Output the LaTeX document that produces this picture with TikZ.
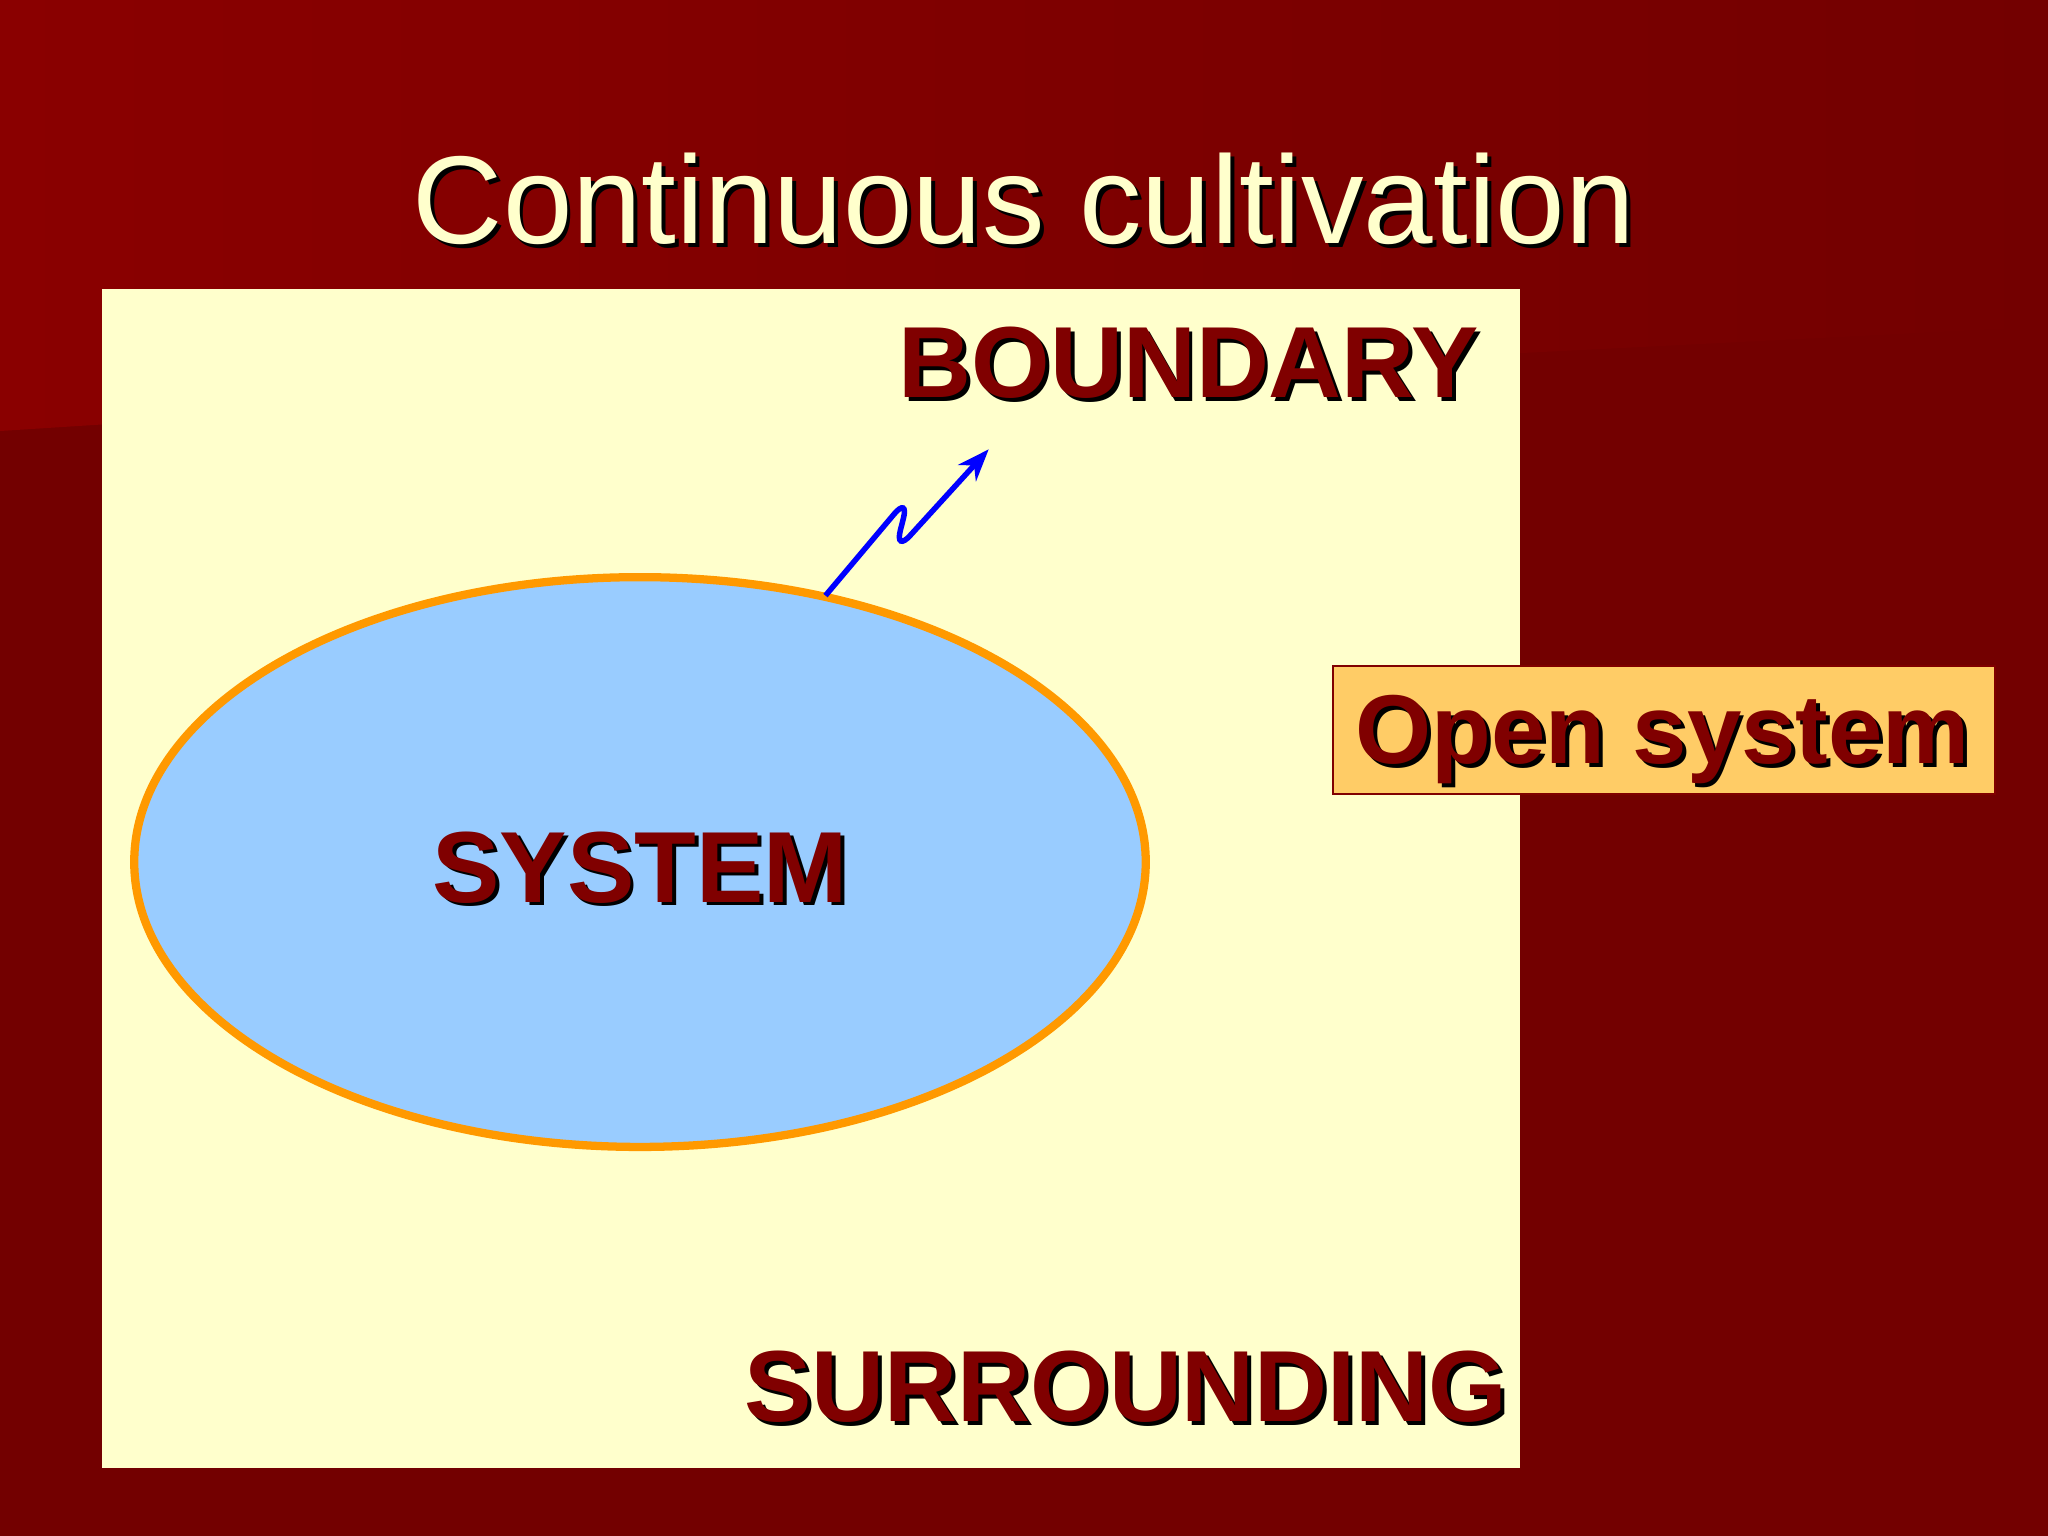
\documentclass[tikz,border=0pt]{standalone}
\usepackage{fontspec}
\setmainfont{Liberation Sans}
\usetikzlibrary{shapes.geometric,arrows.meta}
\definecolor{bgred}{HTML}{730000}
\definecolor{bgred2}{HTML}{8A0000}
\definecolor{cream}{HTML}{FFFFCC}
\definecolor{sysblue}{HTML}{99CCFF}
\definecolor{orng}{HTML}{FF9900}
\definecolor{txtred}{HTML}{800000}
\definecolor{boxor}{HTML}{FFCC66}
\tikzset{
  lbl/.style={font=\bfseries\fontsize{22}{24}\selectfont, text=txtred, inner sep=0pt},
  shd/.style={font=\bfseries\fontsize{22}{24}\selectfont, text=black, inner sep=0pt},
}
\begin{document}
\begin{tikzpicture}[x=0.01cm,y=-0.01cm]
\useasboundingbox (0,0) rectangle (1568,1176);
\fill[bgred] (0,0) rectangle (1568,1176);
\shade[left color=bgred2, right color=bgred] (0,0) -- (1568,0) -- (1568,250) -- (78,325) -- (0,330) -- cycle;
% title
\node[font=\fontsize{27.2}{30}\selectfont, text=black] (tsh) at (787,155) {Continuous cultivation};
\node[font=\fontsize{27.2}{30}\selectfont, text=cream] (title) at (784,152) {Continuous cultivation};
% panel
\fill[cream] (78,221) rectangle (1164,1124);
\node[draw=orng, line width=1.8pt, fill=sysblue, ellipse, minimum width=7.74cm, minimum height=4.36cm, inner sep=0pt] (sys) at (490,660) {};
\node[shd] (s1) at (493,667) {SYSTEM};
\node[lbl] (s2) at (490,664) {SYSTEM};
\node[shd] (b1) at (913,281) {BOUNDARY};
\node[lbl] (b2) at (910,278) {BOUNDARY};
\node[shd] (r1) at (865,1065) {SURROUNDING};
\node[lbl] (r2) at (862,1062) {SURROUNDING};
% open system box
\node[draw=txtred, fill=boxor, minimum width=5.06cm, minimum height=0.98cm, inner sep=0pt] (ob) at (1274,559) {};
\node[shd, font=\bfseries\fontsize{21.3}{24}\selectfont] (o1) at (1276,569) {Open system};
\node[lbl, font=\bfseries\fontsize{21.3}{24}\selectfont] (o2) at (1273,566) {Open system};
% zigzag arrow
\coordinate (z0) at (632,456);
\coordinate (z3) at (757,344);
\draw[blue, line width=1.2pt, rounded corners=5pt, -{Stealth[length=7pt]}] (z0) -- (696,380) -- (685,423) -- (z3);
\end{tikzpicture}
\end{document}
